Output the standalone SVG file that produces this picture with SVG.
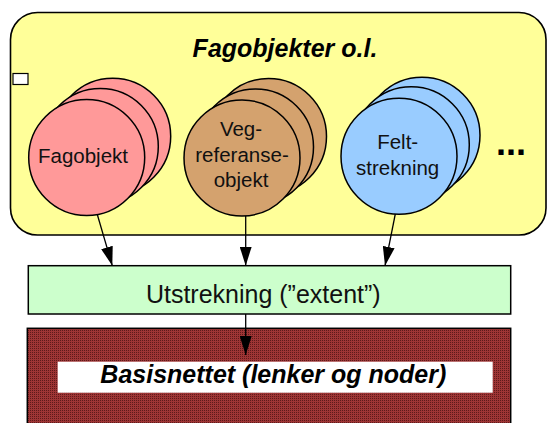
<svg xmlns="http://www.w3.org/2000/svg" width="547" height="423" viewBox="0 0 547 423">
<style>
  .lbl { font-family: "Liberation Sans", Arial, sans-serif; font-size: 20.5px; fill: #111; text-anchor: middle; }
  .ttl { font-family: "Liberation Sans", Arial, sans-serif; font-size: 25px; font-weight: bold; font-style: italic; fill: #000; text-anchor: middle; }
  .box { font-family: "Liberation Sans", Arial, sans-serif; font-size: 25px; fill: #111; text-anchor: middle; }
  .c { stroke: #000; stroke-width: 1.5; }
  .pink { fill: #FF9999; }
  .brown { fill: #D4A26E; }
  .blue { fill: #99CCFF; }
  .conn line { stroke: #000; stroke-width: 1.3; marker-end: url(#ah); }
</style>
<defs>
  <marker id="ah" markerUnits="userSpaceOnUse" markerWidth="20" markerHeight="12" refX="19" refY="6" orient="auto">
    <path d="M0,0 L19,6 L0,12 z" fill="#000"/>
  </marker>
  <pattern id="dots" patternUnits="userSpaceOnUse" width="2" height="2">
    <rect width="2" height="2" fill="#9E3535"/>
    <rect width="1" height="1" fill="#5E1A1A"/>
  </pattern>
</defs>

<g id="fagobjekter-group">
  <rect x="10.5" y="12.5" width="535.5" height="222.5" rx="27" ry="27" fill="#FFFF99" stroke="#000" stroke-width="1.6"/>
  <text class="ttl" x="285" y="57">Fagobjekter o.l.</text>
  <rect x="13" y="73.5" width="15" height="11" fill="#fff" stroke="#000" stroke-width="1.2"/>
  <text x="496" y="155" font-family="Liberation Sans, Arial, sans-serif" font-size="36" font-weight="bold" fill="#000">...</text>
</g>

<g id="fagobjekt">
  <circle class="c pink" cx="112.7" cy="136.3" r="58"/>
  <circle class="c pink" cx="100.3" cy="146.5" r="58"/>
  <circle class="c pink" cx="86.7" cy="157.5" r="58"/>
  <text class="lbl" x="83" y="163.3">Fagobjekt</text>
</g>

<g id="vegreferanseobjekt">
  <circle class="c brown" cx="268.5" cy="136.5" r="58"/>
  <circle class="c brown" cx="255.5" cy="147" r="58"/>
  <circle class="c brown" cx="242" cy="158" r="58"/>
  <text class="lbl" x="241" y="136">Veg-</text>
  <text class="lbl" x="242" y="161.7">referanse-</text>
  <text class="lbl" x="241" y="187.3">objekt</text>
</g>

<g id="feltstrekning">
  <circle class="c blue" cx="422" cy="135.3" r="58"/>
  <circle class="c blue" cx="411.3" cy="144.7" r="58"/>
  <circle class="c blue" cx="399" cy="156.2" r="58"/>
  <text class="lbl" x="397.7" y="149">Felt-</text>
  <text class="lbl" x="397.7" y="175">strekning</text>
</g>

<g id="utstrekning">
  <rect x="28.3" y="265.7" width="482.4" height="48.3" fill="#CCFFCC" stroke="#000" stroke-width="1.5"/>
  <text class="box" x="263.3" y="303.3">Utstrekning (”extent”)</text>
</g>

<g id="basisnettet">
  <rect x="27.3" y="328.3" width="483.4" height="100" fill="url(#dots)" stroke="#000" stroke-width="1.5"/>
  <rect x="57.7" y="361.7" width="435" height="31" fill="#fff"/>
  <text class="ttl" x="273.3" y="383.3">Basisnettet (lenker og noder)</text>
</g>

<g id="connectors" class="conn">
  <line x1="97.3" y1="214.5" x2="112.3" y2="265.7"/>
  <line x1="245.7" y1="216" x2="245.7" y2="265.7"/>
  <line x1="395.3" y1="214" x2="385" y2="265.7"/>
  <line x1="245.7" y1="314" x2="245.7" y2="355"/>
</g>
</svg>
